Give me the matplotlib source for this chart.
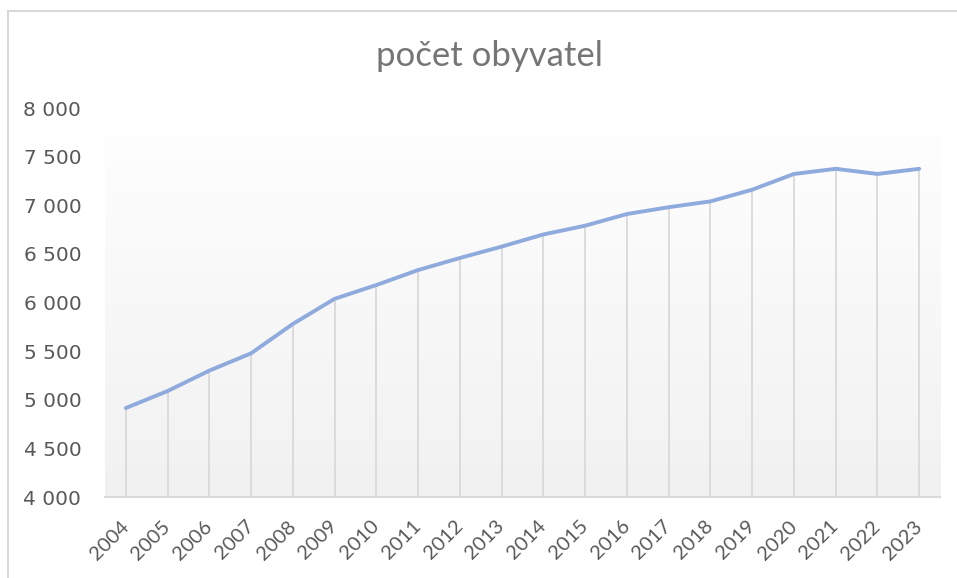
import numpy as np
import matplotlib.pyplot as plt
from matplotlib.lines import Line2D
from matplotlib.ticker import FuncFormatter

years = [str(y) for y in range(2004, 2024)]
population = [4915, 5090, 5300, 5478, 5780, 6038, 6180, 6334, 6458, 6575,
              6700, 6790, 6910, 6980, 7040, 7160, 7322, 7375, 7322, 7375]
y_ticks = [4000, 4500, 5000, 5500, 6000, 6500, 7000, 7500, 8000]

fig = plt.figure(figsize=(9.57, 5.78), dpi=100)
ax = fig.add_axes([0.1097, 0.1401, 0.8726, 0.6730])

# gradient background of the plot area
grad = np.linspace(1, 0, 256).reshape(-1, 1)
top = np.array([1.0, 1.0, 1.0])
bottom = np.array([0.945, 0.945, 0.945])
img = (bottom + (top - bottom) * grad[..., None]).reshape(256, 1, 3)
ax.imshow(img, extent=[0, 1, 0, 1], transform=ax.transAxes, aspect='auto', zorder=0)

x = np.arange(len(years))
ax.vlines(x, y_ticks[0], population, color='#d9d9d9', lw=1.3, zorder=1)
ax.plot(x, population, color='#8faadc', lw=2.8, solid_capstyle='round', zorder=2)

ax.set_xlim(-0.5, len(years) - 0.5)
ax.set_ylim(4000, 8000)
ax.set_yticks(y_ticks)
ax.yaxis.set_major_formatter(FuncFormatter(lambda v, p: f'{int(v):,}'.replace(',', ' ')))
ax.set_xticks(x)
ax.set_xticklabels(years, rotation=45, ha='right', va='center', rotation_mode='anchor',
                   family='Lato')

for s in ['top', 'right', 'left']:
    ax.spines[s].set_visible(False)
ax.spines['bottom'].set_color('#d9d9d9')
ax.spines['bottom'].set_linewidth(1.5)
ax.tick_params(axis='y', length=0, pad=17, labelsize=14.5, labelcolor='#595959')
ax.tick_params(axis='x', length=0, pad=19, labelsize=14.5, labelcolor='#595959')

fig.text(0.511, 0.903, 'počet obyvatel', ha='center', va='center',
         fontsize=25, color='#757575', family='Lato')

# chart border (top and left edges visible)
fig.add_artist(Line2D([8 / 957, 1], [1 - 11 / 578] * 2, transform=fig.transFigure, color='#d9d9d9', lw=1.5))
fig.add_artist(Line2D([8 / 957] * 2, [0, 1 - 11 / 578], transform=fig.transFigure, color='#d9d9d9', lw=1.5))

fig.savefig('out.png', dpi=100)
